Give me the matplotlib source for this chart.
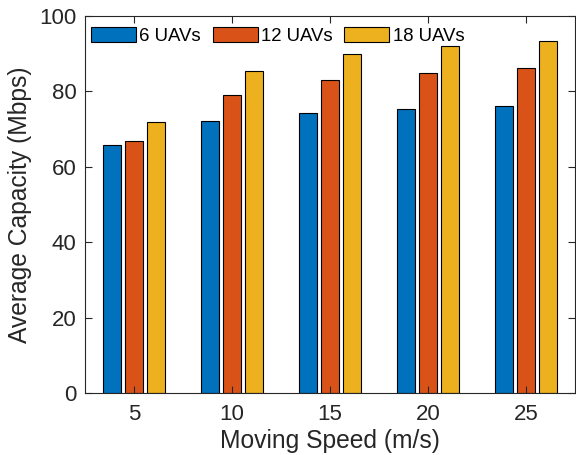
import matplotlib
matplotlib.use("Agg")
import matplotlib.pyplot as plt
import numpy as np

speeds = [5, 10, 15, 20, 25]
series_names = ["6 UAVs", "12 UAVs", "18 UAVs"]
cap_6 = [65.7, 72.2, 74.3, 75.4, 76.0]
cap_12 = [66.8, 79.0, 83.0, 85.0, 86.2]
cap_18 = [72.0, 85.3, 89.8, 92.0, 93.3]
colors = ["#0072BD", "#D95319", "#EDB120"]

plt.rcParams['font.family'] = ['Liberation Sans', 'DejaVu Sans']
txt = '#262626'

fig = plt.figure(figsize=(5.76, 4.55), dpi=100)
ax = fig.add_axes([85/576, 1-393/455, 490/576, 377/455])

x = np.array(speeds, dtype=float)
off = 1.12
w = 0.92
for i, (vals, c, name) in enumerate(zip([cap_6, cap_12, cap_18], colors, series_names)):
    ax.bar(x + (i-1)*off, vals, width=w, color=c, edgecolor='black', linewidth=0.8, label=name)

ax.set_xlim(2.5, 27.5)
ax.set_ylim(0, 100)
ax.set_xticks(speeds)
ax.set_yticks([0, 20, 40, 60, 80, 100])
ax.tick_params(direction='in', top=True, right=True, labelsize=16, colors=txt, length=5, width=0.8, pad=6)
ax.tick_params(axis='x', pad=8)
for s in ax.spines.values():
    s.set_color(txt)
    s.set_linewidth(0.8)
ax.set_xlabel("Moving Speed (m/s)", fontsize=17.7, color=txt, labelpad=3)
ax.set_ylabel("Average Capacity (Mbps)", fontsize=17.7, color=txt, labelpad=5)

leg = ax.legend(loc='upper left', bbox_to_anchor=(0.012, 0.97), ncol=3, frameon=False,
                fontsize=13.4, handlelength=2.42, handleheight=0.86, handletextpad=0.18,
                columnspacing=0.63, borderpad=0, borderaxespad=0)
for t in leg.get_texts():
    t.set_color('black')

fig.savefig("out.png", dpi=100)
